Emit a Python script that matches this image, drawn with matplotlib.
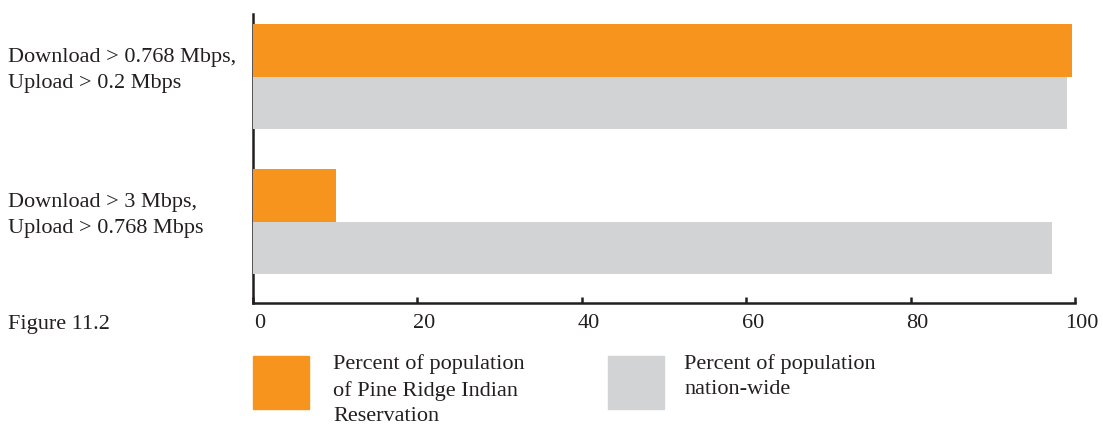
import matplotlib
matplotlib.use("Agg")
import matplotlib.pyplot as plt
from matplotlib.patches import Rectangle
import matplotlib.transforms as mtransforms
import numpy as np

categories = ["Download > 0.768 Mbps,\nUpload > 0.2 Mbps",
              "Download > 3 Mbps,\nUpload > 0.768 Mbps"]
pine_ridge = [99.6, 10.1]
nationwide = [99.0, 97.2]
xticks = [0, 20, 40, 60, 80, 100]
legend_labels = ["Percent of population\nof Pine Ridge Indian\nReservation",
                 "Percent of population\nnation-wide"]
figure_label = "Figure 11.2"

ORANGE = "#F7941E"
GRAY = "#D1D3D4"
INK = "#231F20"

plt.rcParams['font.family'] = ['Liberation Serif', 'DejaVu Serif']

W, H = 1103, 426
fig = plt.figure(figsize=(W / 100, H / 100), dpi=100)

def fx(px):
    return px / W

def fy(py):
    return 1 - py / H

ax_left, ax_right, ax_top, ax_bottom = 253, 1075, 14, 303
ax = fig.add_axes([fx(ax_left), fy(ax_bottom), fx(ax_right - ax_left), (ax_bottom - ax_top) / H])

pos = np.arange(len(categories))
h = 0.363
ax.barh(pos - h / 2, pine_ridge, height=h, color=ORANGE, zorder=3)
ax.barh(pos + h / 2, nationwide, height=h, color=GRAY, zorder=3)

ax.set_xlim(0, 100)
ax.set_ylim(1.561, -0.432)

for s in ["top", "right"]:
    ax.spines[s].set_visible(False)
for s in ["left", "bottom"]:
    ax.spines[s].set_linewidth(1.8)
    ax.spines[s].set_color(INK)
    ax.spines[s].set_zorder(2)

ax.set_xticks(xticks)
ax.set_xticklabels([str(t) for t in xticks], fontsize=16, color=INK)
ax.tick_params(axis='x', direction='in', length=4.5, width=1.8, color=INK, pad=8)
ax.set_yticks([])
offset = mtransforms.ScaledTranslation(7 / 100, 0, fig.dpi_scale_trans)
for lbl in ax.get_xticklabels():
    lbl.set_transform(lbl.get_transform() + offset)

trans = mtransforms.blended_transform_factory(fig.transFigure, ax.transData)
for p, lab in zip(pos, categories):
    ax.text(fx(8), p - 0.04, lab, transform=trans, ha='left', va='center',
            fontsize=16, color=INK, linespacing=1.5)

fig.text(fx(8), fy(329), figure_label, ha='left', va='baseline', fontsize=16, color=INK)

# Legend
leg_items = [(253, ORANGE, 333, legend_labels[0]), (608, GRAY, 684, legend_labels[1])]
for x0, col, tx, lab in leg_items:
    fig.patches.append(Rectangle((fx(x0), fy(409)), fx(56), (409 - 355.5) / H,
                                 transform=fig.transFigure, color=col, zorder=1))
    fig.text(fx(tx), fy(354), lab, ha='left', va='top', fontsize=16, color=INK,
             linespacing=1.45)

fig.savefig("out.png", dpi=100)
